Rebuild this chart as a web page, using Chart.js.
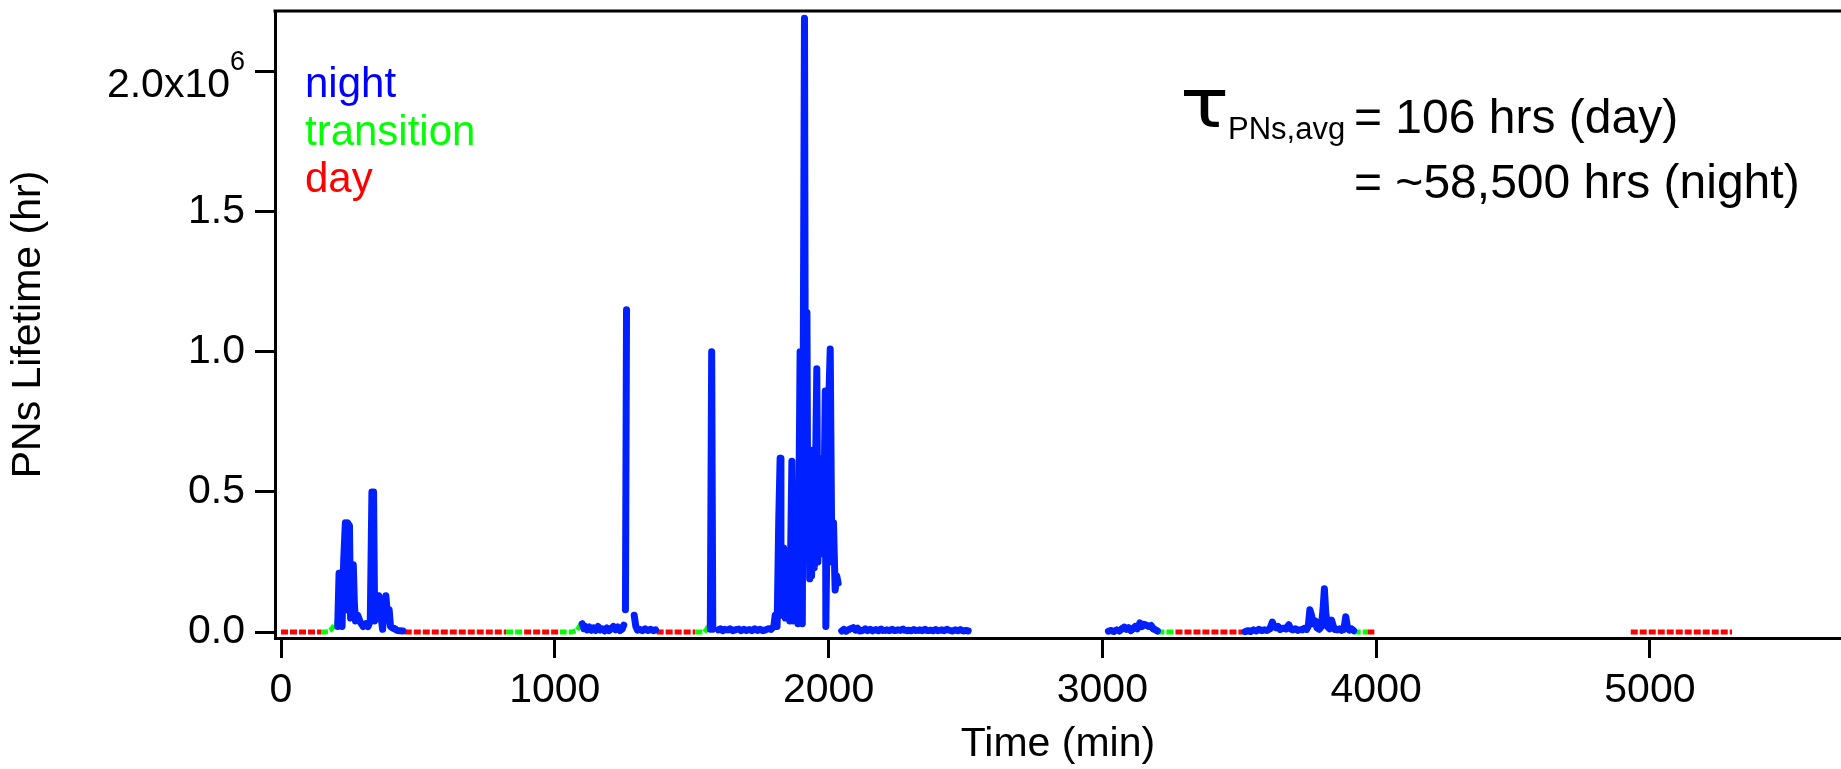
<!DOCTYPE html>
<html>
<head>
<meta charset="utf-8">
<script src="https://cdn.jsdelivr.net/npm/chart.js@4.4.1/dist/chart.umd.min.js"></script>
<style>
  html, body { margin: 0; padding: 0; background: #fff; }
  #wrap { width: 1841px; height: 769px; }
</style>
</head>
<body>
<div id="wrap"><canvas id="lifetimeChart" width="1841" height="769"></canvas></div>
<script>
const FONT = '"Liberation Sans", Arial, sans-serif';

// Axis ticks
const xTicks = [0, 1000, 2000, 3000, 4000, 5000];
const xTickLabels = ['0', '1000', '2000', '3000', '4000', '5000'];
const yTicks = [0, 0.5, 1.0, 1.5, 2.0];
const yTickLabels = ['0.0', '0.5', '1.0', '1.5', '2.0x10'];
const yTickExp = '6';

// night (blue) - time in min, lifetime in 10^6 hr, null = gap
const nightTime = [
  207, 212, 215, 219, 223, 229, 235, 239, 243, 250, 254, 258, 264, 268, 272, 280, 290, 300, 310, 318,
  326, 332, 338, 342, 350, 357, 365, 371, 383, 388, 395, 400, 407, 415, 425, 435, 445, 450,
  1100, 1106, 1112, 1118, 1126, 1134, 1142, 1150, 1158, 1166, 1174, 1182, 1190, 1198, 1206, 1214,
  1222, 1230, 1238, 1246, 1252, 1255, 1258, 1262, 1270,
  1290, 1296, 1302, 1310, 1320, 1330, 1340, 1350, 1360, 1368, 1372,
  1568, 1573, 1577, 1585,
  1597, 1605, 1613, 1621, 1630, 1640, 1650, 1660, 1670, 1680, 1690, 1700, 1710, 1720, 1730, 1740,
  1750, 1760, 1770, 1780, 1790,
  1800, 1805, 1812, 1818, 1823, 1826, 1830, 1836, 1842, 1850, 1858, 1866, 1870, 1878, 1884, 1888,
  1896, 1900, 1904, 1912, 1916, 1921, 1924, 1928, 1931, 1935, 1938, 1944, 1948, 1952, 1957, 1961,
  1965, 1970, 1974, 1978, 1983, 1988,
  1990, 1995, 2000, 2006, 2012, 2018, 2024, 2030, 2035, 2040,
  2048, 2056, 2064, 2072, 2080, 2090, 2098, 2106, 2114, 2124, 2134, 2142, 2152, 2162, 2172, 2182,
  2192, 2202, 2212, 2222, 2232, 2242, 2252, 2262, 2272, 2282, 2292, 2302, 2312, 2322, 2332, 2342,
  2352, 2362, 2372, 2382, 2392, 2402, 2412, 2422, 2432, 2442, 2452, 2462, 2472, 2482, 2492, 2502,
  2510, 2515,
  3022, 3032, 3042, 3052, 3062, 3072, 3080, 3088, 3096, 3104, 3112, 3120, 3128, 3137, 3145, 3152,
  3160, 3169, 3178, 3186, 3195, 3201, 3205,
  3522, 3532, 3542, 3552, 3562, 3572, 3582, 3592, 3602, 3612, 3621, 3628, 3635, 3642, 3650, 3660,
  3670, 3681, 3688, 3696, 3705, 3714, 3722, 3730, 3738, 3746, 3752, 3758, 3764, 3770, 3778, 3784,
  3792, 3800, 3806, 3811, 3816, 3822, 3830, 3837, 3844, 3850, 3858, 3866, 3874, 3882, 3889, 3895,
  3902, 3910, 3918
];
const nightLife = [
  0.02, 0.21, 0.03, 0.21, 0.02, 0.26, 0.39, 0.08, 0.39, 0.38, 0.05, 0.06, 0.24, 0.10, 0.04, 0.06, 0.035, 0.02, 0.03, 0.02,
  0.04, 0.50, 0.50, 0.04, 0.06, 0.13, 0.06, 0.01, 0.13, 0.07, 0.08, 0.02, 0.015, 0.012, 0.006, 0.005, 0.004, null,
  0.03, 0.012, 0.02, 0.008, 0.018, 0.006, 0.015, 0.006, 0.02, 0.008, 0.012, 0.005, 0.015, 0.006, 0.012, 0.02,
  0.008, 0.018, 0.006, 0.012, 0.025, null, 0.08, 1.15, null,
  0.06, 0.02, 0.008, 0.01, 0.005, 0.012, 0.006, 0.01, 0.005, 0.008, null,
  0.01, 1.00, 0.01, null,
  0.008, 0.012, 0.005, 0.01, 0.006, 0.012, 0.005, 0.008, 0.012, 0.005, 0.01, 0.006, 0.01, 0.005, 0.012, 0.006,
  0.01, 0.005, 0.008, 0.012, 0.01,
  0.02, 0.06, 0.02, 0.40, 0.62, 0.09, 0.06, 0.30, 0.05, 0.28, 0.04, 0.61, 0.04, 0.25, 0.52, 0.03,
  1.00, 0.30, 0.03, 2.19, 0.40, 1.14, 0.36, 0.50, 0.19, 0.42, 0.20, 0.65, 0.23, 0.55, 0.94, 0.25,
  0.55, 0.30, 0.62, 0.28, 0.45, 0.86,
  0.02, 0.40, 0.80, 1.01, 0.25, 0.39, 0.15, 0.20, 0.175, null,
  0.004, 0.01, 0.003, 0.008, 0.012, 0.016, 0.008, 0.014, 0.004, 0.006, 0.012, 0.005, 0.01, 0.004, 0.009, 0.005,
  0.011, 0.004, 0.008, 0.005, 0.01, 0.004, 0.008, 0.006, 0.011, 0.004, 0.007, 0.005, 0.009, 0.004, 0.008, 0.005,
  0.01, 0.004, 0.007, 0.005, 0.009, 0.004, 0.008, 0.005, 0.01, 0.006, 0.004, 0.008, 0.005, 0.009, 0.004, 0.006,
  0.004, null,
  0.003, 0.006, 0.002, 0.008, 0.004, 0.012, 0.018, 0.01, 0.016, 0.006, 0.012, 0.02, 0.012, 0.033, 0.02, 0.028,
  0.025, 0.02, 0.024, 0.012, 0.008, 0.004, null,
  0.002, 0.005, 0.002, 0.008, 0.004, 0.01, 0.005, 0.008, 0.006, 0.012, 0.036, 0.02, 0.015, 0.02, 0.01, 0.014,
  0.012, 0.026, 0.012, 0.008, 0.012, 0.006, 0.01, 0.008, 0.014, 0.01, 0.02, 0.08, 0.06, 0.03, 0.04, 0.015,
  0.01, 0.02, 0.08, 0.155, 0.07, 0.02, 0.012, 0.043, 0.02, 0.01, 0.008, 0.012, 0.006, 0.01, 0.055, 0.02,
  0.008, 0.012, 0.005
];

// transition (green)
const transTime = [146, 160, 172, 182, 190, 196, 202, 207, 210, 822, 888, 892, 1018, 1060, 1080, 1090, 1098, 1102,
  1513, 1545, 1555, 1562, 1568, 1572, 3201, 3267, 3270, 3918, 3968];
const transLife = [0, 0, 0.002, 0.008, 0.018, 0.028, 0.032, 0.02, null, 0, 0, null, 0, 0, 0.005, 0.02, 0.03, null,
  0, 0, 0.01, 0.025, 0.01, null, 0, 0, null, 0, 0];

// day (red)
const dayTime = [0, 146, 148, 452, 822, 824, 888, 1018, 1020, 1372, 1513, 1515, 3267, 3517, 3520, 3968, 3995, 4000, 4930, 5300];
const dayLife = [0, 0, null, 0, 0, null, 0, 0, null, 0, 0, null, 0, 0, null, 0, 0, null, 0, 0];

const xMin = -22, xMax = 5698;
const yMin = -0.021, yMax = 2.216;

function toPoints(ts, vs) {
  return ts.map((t, i) => ({ x: t, y: vs[i] }));
}

const textPlugin = {
  id: 'textPlugin',
  afterDraw(chart) {
    const { ctx, chartArea } = chart;
    const yScale = chart.scales.y;
    ctx.save();

    // top frame line
    ctx.strokeStyle = '#000';
    ctx.lineWidth = 3;
    ctx.beginPath();
    ctx.moveTo(chartArea.left - 1.5, chartArea.top);
    ctx.lineTo(chartArea.right, chartArea.top);
    ctx.stroke();

    // 2.0x10^6 tick label
    const y2 = yScale.getPixelForValue(2.0);
    ctx.fillStyle = '#000';
    ctx.textBaseline = 'alphabetic';
    ctx.textAlign = 'right';
    ctx.font = '41px ' + FONT;
    ctx.fillText(yTickLabels[4], chartArea.left - 45, y2 + 25);
    ctx.textAlign = 'left';
    ctx.font = '27px ' + FONT;
    ctx.fillText(yTickExp, chartArea.left - 45, y2 - 2);

    // legend text
    ctx.font = '42px ' + FONT;
    ctx.fillStyle = '#0000ff';
    ctx.fillText('night', chartArea.left + 30, 97);
    ctx.fillStyle = '#00ff00';
    ctx.fillText('transition', chartArea.left + 30, 145);
    ctx.fillStyle = '#ff0000';
    ctx.fillText('day', chartArea.left + 30, 192);

    // lifetime annotation
    ctx.fillStyle = '#000';
    ctx.save();
    ctx.translate(1180, 127);
    ctx.scale(1.2, 1);
    ctx.font = '68px "DejaVu Sans", sans-serif';
    ctx.fillText('τ', 0, 0);
    ctx.restore();
    ctx.font = '31px ' + FONT;
    ctx.fillText('PNs,avg', 1228, 139);
    ctx.font = '48px ' + FONT;
    ctx.fillText('= 106 hrs (day)', 1354, 133);
    ctx.fillText('= ~58,500 hrs (night)', 1354, 198);

    ctx.restore();
  }
};

const ctx = document.getElementById('lifetimeChart').getContext('2d');
new Chart(ctx, {
  type: 'line',
  data: {
    datasets: [
      {
        label: 'night',
        data: toPoints(nightTime, nightLife),
        borderColor: '#0020ff',
        borderWidth: 7,
        borderCapStyle: 'round',
        borderJoinStyle: 'round',
        pointRadius: 0,
        tension: 0,
        spanGaps: false,
        segment: {
          borderDash: (c) => (c.p0.parsed.y < 0.015 && c.p1.parsed.y < 0.015) ? [9, 3] : undefined,
        },
      },
      {
        label: 'transition',
        data: toPoints(transTime, transLife),
        borderColor: '#00ff00',
        borderWidth: 5,
        borderDash: [7, 2],
        pointRadius: 0,
        tension: 0,
        spanGaps: false,
      },
      {
        label: 'day',
        data: toPoints(dayTime, dayLife),
        borderColor: '#ff0000',
        borderWidth: 5,
        borderDash: [7, 2],
        pointRadius: 0,
        tension: 0,
        spanGaps: false,
      },
    ],
  },
  options: {
    responsive: false,
    animation: false,
    devicePixelRatio: 1,
    layout: { padding: { top: 11, right: 0, bottom: 0, left: 0 } },
    plugins: { legend: { display: false }, tooltip: { enabled: false } },
    scales: {
      x: {
        type: 'linear',
        min: xMin,
        max: xMax,
        afterBuildTicks: (s) => { s.ticks = xTicks.map((v) => ({ value: v })); },
        afterFit: (s) => {
          s.height = 131;
          s.paddingLeft = 0;
          s.paddingRight = 0;
        },
        ticks: {
          callback: (v, i) => xTickLabels[i],
          color: '#000',
          font: { size: 41, family: FONT },
          padding: 8,
          maxRotation: 0,
          autoSkip: false,
        },
        grid: { drawOnChartArea: false, drawTicks: true, tickLength: 20, color: '#000', lineWidth: 3 },
        border: { display: true, color: '#000', width: 3 },
        title: {
          display: true,
          text: 'Time (min)',
          color: '#000',
          font: { size: 41, family: FONT },
          padding: { top: 0, bottom: 0 },
        },
      },
      y: {
        type: 'linear',
        min: yMin,
        max: yMax,
        afterBuildTicks: (s) => { s.ticks = yTicks.map((v) => ({ value: v })); },
        afterFit: (s) => {
          s.width = 275;
          s.paddingTop = 0;
          s.paddingBottom = 0;
        },
        ticks: {
          callback: (v, i) => (i === 4 ? '' : yTickLabels[i]),
          color: '#000',
          font: { size: 41, family: FONT },
          padding: 10,
          autoSkip: false,
        },
        grid: { drawOnChartArea: false, drawTicks: true, tickLength: 20, color: '#000', lineWidth: 3 },
        border: { display: true, color: '#000', width: 3 },
        title: {
          display: true,
          text: 'PNs Lifetime (hr)',
          color: '#000',
          font: { size: 41, family: FONT },
          padding: { top: 4, bottom: 0 },
        },
      },
    },
  },
  plugins: [textPlugin],
});
</script>
</body>
</html>
